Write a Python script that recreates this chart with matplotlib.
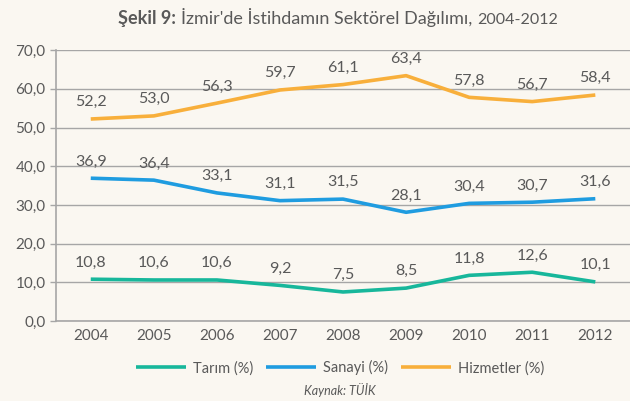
import matplotlib
matplotlib.use('Agg')
import matplotlib.pyplot as plt

plt.rcParams['font.family'] = ['Lato', 'DejaVu Sans']

years = ['2004', '2005', '2006', '2007', '2008', '2009', '2010', '2011', '2012']
tarim = [10.8, 10.6, 10.6, 9.2, 7.5, 8.5, 11.8, 12.6, 10.1]
sanayi = [36.9, 36.4, 33.1, 31.1, 31.5, 28.1, 30.4, 30.7, 31.6]
hizmetler = [52.2, 53.0, 56.3, 59.7, 61.1, 63.4, 57.8, 56.7, 58.4]

series = [('Tarım (%)', tarim, '#17B79B'),
          ('Sanayi (%)', sanayi, '#1F9CE0'),
          ('Hizmetler (%)', hizmetler, '#F8AF3B')]

bg = '#FAF7F1'
txt = '#595959'
grid = '#A6A6A6'

fig = plt.figure(figsize=(6.3, 4.01), dpi=100, facecolor=bg)
ax = fig.add_axes([0.089, 0.1995, 0.911, 0.6755], facecolor=bg)

x = list(range(len(years)))
for name, vals, col in series:
    ax.plot(x, vals, color=col, lw=2.6, label=name, solid_capstyle='butt')
    for xi, v in zip(x, vals):
        ax.annotate(f'{v:.1f}'.replace('.', ','), (xi, v), xytext=(0, 7),
                    textcoords='offset points', ha='center', va='bottom',
                    fontsize=11.5, color=txt)

ax.set_xlim(-0.55, 8.55)
ax.set_ylim(0, 70)
ax.set_yticks(range(0, 71, 10))
ax.set_yticklabels([f'{v},0' for v in range(0, 71, 10)])
ax.set_xticks(x)
ax.set_xticklabels(years)
ax.yaxis.grid(True, color=grid, lw=1)
ax.set_axisbelow(True)
for s in ['top', 'right']:
    ax.spines[s].set_visible(False)
for s in ['left', 'bottom']:
    ax.spines[s].set_color(grid)
    ax.spines[s].set_linewidth(1.2)
ax.tick_params(axis='y', colors=grid, labelcolor=txt, labelsize=11, length=4, width=1)
ax.tick_params(axis='x', length=0, labelcolor=txt, labelsize=11, pad=6)

fig.legend(loc='center', bbox_to_anchor=(0.54, 0.083), ncol=3, frameon=False,
           fontsize=10.5, labelcolor=txt, handlelength=3.4, columnspacing=0.9,
           handletextpad=0.5)
fig.text(0.54, 0.027, 'Kaynak: TÜİK', ha='center', va='center', fontsize=9,
         style='italic', color=txt)

# title pieces
fig.canvas.draw()
r = fig.canvas.get_renderer()
parts = [('Şekil 9: ', 'bold', 13), ("İzmir'de İstihdamın Sektörel Dağılımı, ", 'normal', 13),
         ('2004-2012', 'normal', 11.5)]
texts = []
for s, w, fs in parts:
    t = fig.text(0, 0.94, s, fontweight=w, fontsize=fs, color=txt, va='baseline')
    texts.append(t)
widths = [t.get_window_extent(r).width for t in texts]
total = sum(widths)
xpos = 338 - total / 2
for t, wd in zip(texts, widths):
    t.set_x(xpos / fig.bbox.width)
    xpos += wd

fig.savefig('out.png', dpi=100, facecolor=bg)
